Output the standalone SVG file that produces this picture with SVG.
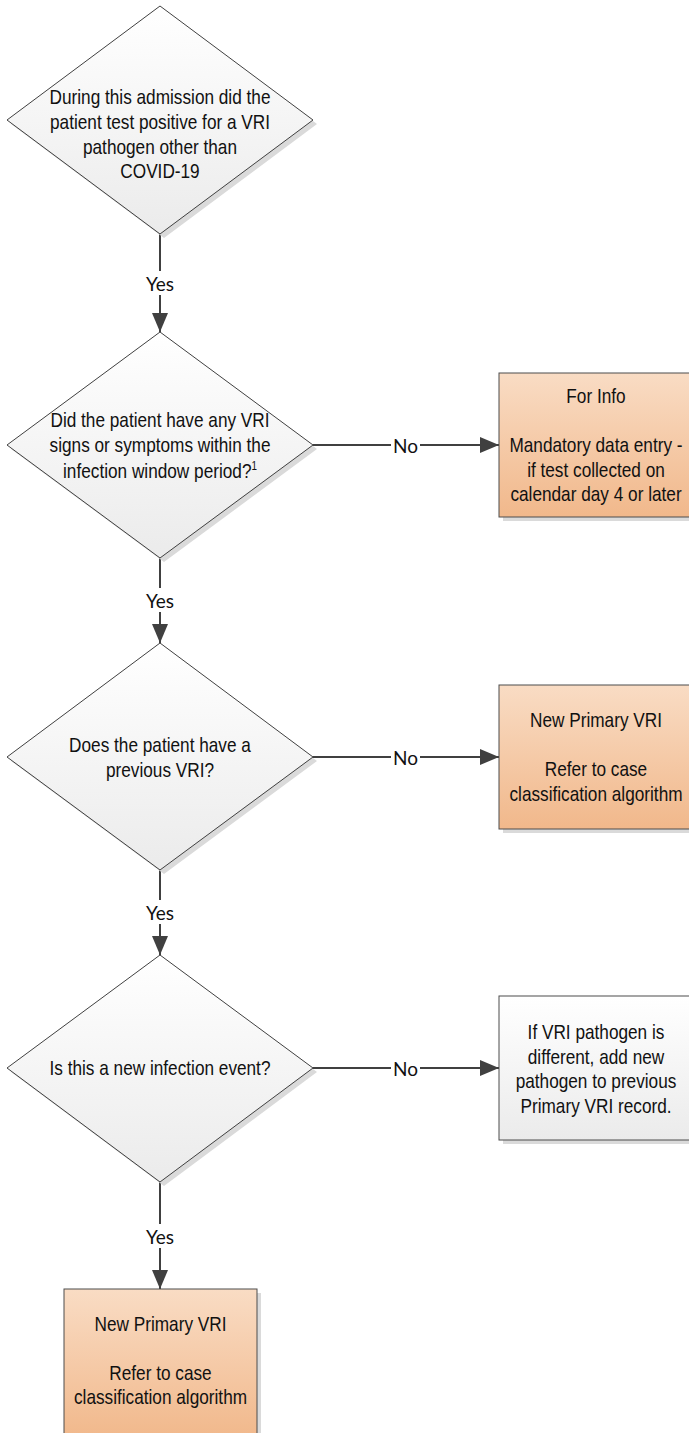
<svg xmlns="http://www.w3.org/2000/svg" width="689" height="1433" viewBox="0 0 689 1433">
  <style>
    .t { font-family: "Liberation Sans", Arial, sans-serif; font-size: 21px; fill: #111111; text-anchor: middle; }
    .lbl { font-family: Lato, "Open Sans", sans-serif; font-size: 19px; fill: #111111; text-anchor: middle; dominant-baseline: central; }
    .dia { fill: url(#gGray); stroke: #404040; stroke-width: 1; }
    .shadow { fill: #dadada; }
    .boxO { fill: url(#gOrange); stroke: #4d4d4d; stroke-width: 1; }
    .boxG { fill: url(#gGray); stroke: #4d4d4d; stroke-width: 1; }
    .conn { stroke: #404040; stroke-width: 2; fill: none; marker-end: url(#arrow); }
    .lblbg { fill: #ffffff; }
  </style>
  <defs>
    <linearGradient id="gGray" x1="0" y1="0" x2="0" y2="1">
      <stop offset="0" stop-color="#ffffff"/>
      <stop offset="1" stop-color="#ebebeb"/>
    </linearGradient>
    <linearGradient id="gOrange" x1="0" y1="0" x2="0" y2="1">
      <stop offset="0" stop-color="#f9dcc4"/>
      <stop offset="1" stop-color="#f1b88b"/>
    </linearGradient>
    <marker id="arrow" markerUnits="userSpaceOnUse" markerWidth="19" markerHeight="16" refX="19" refY="8" orient="auto">
      <path d="M0,0 L19,8 L0,16 Z" fill="#404040"/>
    </marker>
  </defs>

  <g id="connectors">
    <line class="conn" x1="160" y1="234" x2="160" y2="332"/>
    <line class="conn" x1="160" y1="558" x2="160" y2="643"/>
    <line class="conn" x1="160" y1="870" x2="160" y2="955"/>
    <line class="conn" x1="160" y1="1182" x2="160" y2="1289"/>
    <line class="conn" x1="313" y1="445" x2="499" y2="445"/>
    <line class="conn" x1="313" y1="757" x2="499" y2="757"/>
    <line class="conn" x1="313" y1="1068" x2="499" y2="1068"/>
    <rect class="lblbg" x="144" y="271" width="32" height="24"/>
    <text class="lbl" x="160" y="283">Yes</text>
    <rect class="lblbg" x="144" y="588" width="32" height="24"/>
    <text class="lbl" x="160" y="600">Yes</text>
    <rect class="lblbg" x="144" y="900" width="32" height="24"/>
    <text class="lbl" x="160" y="912">Yes</text>
    <rect class="lblbg" x="144" y="1224" width="32" height="24"/>
    <text class="lbl" x="160" y="1236">Yes</text>
    <rect class="lblbg" x="391" y="435" width="29" height="20"/>
    <text class="lbl" x="405.5" y="445">No</text>
    <rect class="lblbg" x="391" y="747" width="29" height="20"/>
    <text class="lbl" x="405.5" y="757">No</text>
    <rect class="lblbg" x="391" y="1058" width="29" height="20"/>
    <text class="lbl" x="405.5" y="1068">No</text>
  </g>

  <g id="d1">
    <polygon class="shadow" points="164,10 317,124 164,238 11,124"/>
    <polygon class="dia" points="160,6 313,120 160,234 7,120"/>
    <text class="t" transform="matrix(0.82,0,0,1,160,0)" y="104">During this admission did the</text>
    <text class="t" transform="matrix(0.82,0,0,1,160,0)" y="129.5">patient test positive for a VRI</text>
    <text class="t" transform="matrix(0.82,0,0,1,160,0)" y="154.5">pathogen other than</text>
    <text class="t" transform="matrix(0.82,0,0,1,160,0)" y="178.5">COVID-19</text>
  </g>

  <g id="d2">
    <polygon class="shadow" points="164,336 317,449 164,562 11,449"/>
    <polygon class="dia" points="160,332 313,445 160,558 7,445"/>
    <text class="t" transform="matrix(0.82,0,0,1,160,0)" y="427">Did the patient have any VRI</text>
    <text class="t" transform="matrix(0.82,0,0,1,160,0)" y="452.5">signs or symptoms within the</text>
    <text class="t" transform="matrix(0.82,0,0,1,160,0)" y="478">infection window period?<tspan font-size="12" dy="-8">1</tspan></text>
  </g>

  <g id="d3">
    <polygon class="shadow" points="164,647 317,761 164,874 11,761"/>
    <polygon class="dia" points="160,643 313,757 160,870 7,757"/>
    <text class="t" transform="matrix(0.82,0,0,1,160,0)" y="752">Does the patient have a</text>
    <text class="t" transform="matrix(0.82,0,0,1,160,0)" y="777.5">previous VRI?</text>
  </g>

  <g id="d4">
    <polygon class="shadow" points="164,959 317,1072 164,1186 11,1072"/>
    <polygon class="dia" points="160,955 313,1068 160,1182 7,1068"/>
    <text class="t" transform="matrix(0.82,0,0,1,160,0)" y="1075">Is this a new infection event?</text>
  </g>

  <g id="b1">
    <rect class="shadow" x="503" y="377" width="200" height="144"/>
    <rect class="boxO" x="499" y="373" width="200" height="144"/>
    <text class="t" transform="matrix(0.82,0,0,1,596,0)" y="403">For Info</text>
    <text class="t" transform="matrix(0.82,0,0,1,596,0)" y="452.5">Mandatory data entry -</text>
    <text class="t" transform="matrix(0.82,0,0,1,596,0)" y="477">if test collected on</text>
    <text class="t" transform="matrix(0.82,0,0,1,596,0)" y="501.5">calendar day 4 or later</text>
  </g>

  <g id="b2">
    <rect class="shadow" x="503" y="689" width="200" height="144"/>
    <rect class="boxO" x="499" y="685" width="200" height="144"/>
    <text class="t" transform="matrix(0.82,0,0,1,596,0)" y="727">New Primary VRI</text>
    <text class="t" transform="matrix(0.82,0,0,1,596,0)" y="776.5">Refer to case</text>
    <text class="t" transform="matrix(0.82,0,0,1,596,0)" y="801">classification algorithm</text>
  </g>

  <g id="b3">
    <rect class="shadow" x="503" y="1000" width="200" height="144"/>
    <rect class="boxG" x="499" y="996" width="200" height="144"/>
    <text class="t" transform="matrix(0.82,0,0,1,596,0)" y="1039.5">If VRI pathogen is</text>
    <text class="t" transform="matrix(0.82,0,0,1,596,0)" y="1064">different, add new</text>
    <text class="t" transform="matrix(0.82,0,0,1,596,0)" y="1088.5">pathogen to previous</text>
    <text class="t" transform="matrix(0.82,0,0,1,596,0)" y="1113">Primary VRI record.</text>
  </g>

  <g id="b4">
    <rect class="shadow" x="68" y="1293" width="193" height="150"/>
    <rect class="boxO" x="64" y="1289" width="193" height="150"/>
    <text class="t" transform="matrix(0.82,0,0,1,160.5,0)" y="1331">New Primary VRI</text>
    <text class="t" transform="matrix(0.82,0,0,1,160.5,0)" y="1380">Refer to case</text>
    <text class="t" transform="matrix(0.82,0,0,1,160.5,0)" y="1404.5">classification algorithm</text>
  </g>
</svg>
